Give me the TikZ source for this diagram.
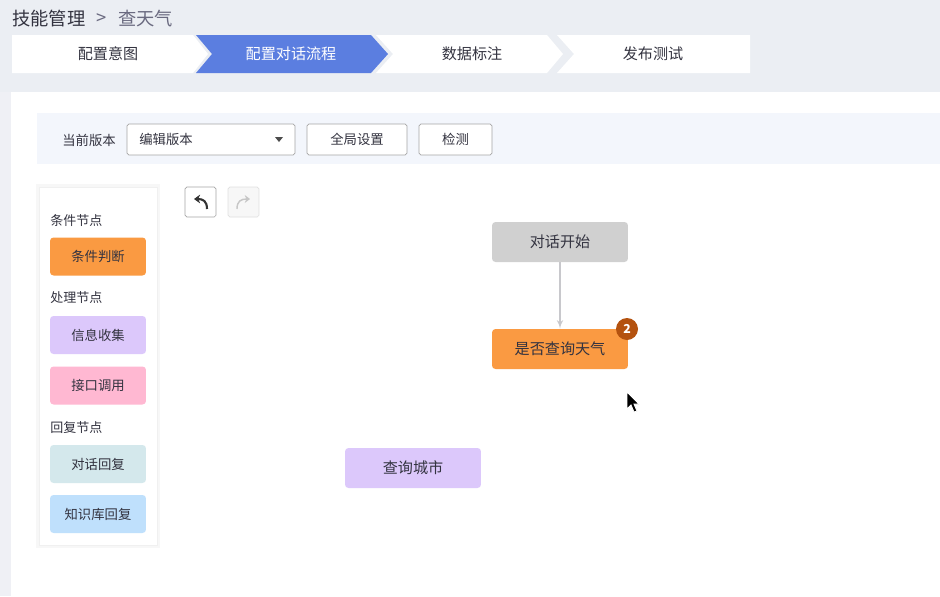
\documentclass[tikz,border=0pt]{standalone}
\usepackage{fontspec}
\setmainfont{Noto Sans CJK SC}
\usepackage{tikz}
\usetikzlibrary{arrows, arrows.meta, positioning}
\definecolor{pagebg}{HTML}{EBEEF3}
\definecolor{sidebg}{HTML}{EFF0F5}
\definecolor{stepblue}{HTML}{5B7EE0}
\definecolor{barbg}{HTML}{F3F6FC}
\definecolor{condorange}{HTML}{FA9A42}
\definecolor{collectpurple}{HTML}{DCC8FB}
\definecolor{apipink}{HTML}{FFB8D2}
\definecolor{replyteal}{HTML}{D4E8EC}
\definecolor{kbblue}{HTML}{BFE0FC}
\definecolor{startgray}{HTML}{D0D0D0}
\definecolor{badgebrown}{HTML}{B4520F}
\definecolor{txt}{HTML}{333340}
\definecolor{crumbgray}{HTML}{6A6A80}
\definecolor{linegray}{HTML}{C8C8CC}
\newlength{\flowwidth}
\setlength{\flowwidth}{2.72cm}
\newlength{\palwidth}
\setlength{\palwidth}{1.92cm}
\tikzset{flow/.style = {shape=rectangle, rounded corners=2pt, minimum width=\flowwidth, minimum height=0.8cm, inner sep=0pt, text=txt, font=\fontsize{8.6pt}{10pt}\selectfont}}
\tikzset{palbox/.style = {shape=rectangle, rounded corners=2pt, minimum width=\palwidth, minimum height=0.76cm, inner sep=0pt, text=txt, font=\fontsize{7.6pt}{9pt}\selectfont}}
\tikzset{grouplabel/.style = {anchor=west, inner sep=0pt, text=txt, font=\fontsize{7.4pt}{9pt}\selectfont}}
\tikzset{steptext/.style = {inner sep=0pt, text=txt, font=\fontsize{8.6pt}{10pt}\selectfont}}
\tikzset{btn/.style = {shape=rectangle, draw=black!35, fill=white, rounded corners=1pt, minimum height=0.62cm, inner sep=0pt, text=txt, font=\fontsize{7.6pt}{9pt}\selectfont}}
\tikzset{edge/.style = {->, > = latex', draw=linegray, line width=0.7pt}}

\begin{document}
\begin{tikzpicture}[x=0.02cm, y=-0.02cm]
        \useasboundingbox (0,0) rectangle (940,596);
        % page background
        \fill[pagebg] (0,0) rectangle (940,92);
        \fill[sidebg] (0,92) rectangle (11,596);
        \fill[white] (11,92) rectangle (940,596);
        % breadcrumb
        \node[anchor=west, inner sep=0pt, text=txt, font=\fontsize{10.4pt}{12pt}\selectfont] (skill) at (12,19) {技能管理};
        \node[right=6pt of skill, inner sep=0pt, text=crumbgray, font=\fontsize{10.4pt}{12pt}\selectfont] (sep) {>};
        \node[right=6pt of sep, inner sep=0pt, text=crumbgray, font=\fontsize{10.4pt}{12pt}\selectfont] (crumb) {查天气};
        % steps
        \fill[white] (12,35) -- (193,35) -- (208,54) -- (193,73) -- (12,73) -- cycle;
        \fill[stepblue] (196,35) -- (371,35) -- (388,54) -- (371,73) -- (196,73) -- (212,54) -- cycle;
        \fill[white] (376,35) -- (547,35) -- (563,54) -- (547,73) -- (376,73) -- (393,54) -- cycle;
        \fill[white] (557,35) -- (750,35) -- (750,73) -- (557,73) -- (574,54) -- cycle;
        \node[steptext] (intent) at (108,54) {配置意图};
        \node[steptext, text=white] (dialog) at (291,54) {配置对话流程};
        \node[steptext] (label) at (472,54) {数据标注};
        \node[steptext] (publish) at (653,54) {发布测试};
        % toolbar
        \fill[barbg] (37,113) rectangle (940,164);
        \node[inner sep=0pt, text=txt, font=\fontsize{7.6pt}{9pt}\selectfont] (version) at (89,140) {当前版本};
        \node[btn, minimum width=3.36cm] (select) at (211,139.5) {};
        \node[anchor=west, inner sep=0pt, text=txt, font=\fontsize{7.6pt}{9pt}\selectfont] (edit) at (139,139) {编辑版本};
        \fill[black!70] (275,137) -- (283,137) -- (279,142) -- cycle;
        \node[btn, minimum width=2cm] (global) at (357,139.5) {全局设置};
        \node[btn, minimum width=1.46cm] (check) at (455.5,139.5) {检测};
        % undo / redo
        \node[btn, minimum width=0.62cm, minimum height=0.6cm] (undo) at (200.5,202) {};
        \node[btn, draw=black!12, fill=black!3, minimum width=0.62cm, minimum height=0.6cm] (redo) at (243.5,202) {};
        \draw[line width=1.2pt, black!80, -{Stealth[length=3.5pt, width=5pt]}] (207,209) .. controls (207,201) and (203,199) .. (194,199);
        \draw[line width=0.8pt, black!22, -{Stealth[length=3pt, width=4.5pt]}] (237,209) .. controls (237,201) and (241,199) .. (250,199);
        % palette
        \fill[black!3] (36,184) rectangle (160,548);
        \fill[white, draw=black!6] (39,187) rectangle (157,545);
        \node[grouplabel] (condlabel) at (50,221) {条件节点};
        \node[palbox, fill=condorange] (cond) at (98,256.5) {条件判断};
        \node[grouplabel] (proclabel) at (50,298) {处理节点};
        \node[palbox, fill=collectpurple] (collect) at (98,335) {信息收集};
        \node[palbox, fill=apipink] (api) at (98,385.5) {接口调用};
        \node[grouplabel] (replylabel) at (50,428) {回复节点};
        \node[palbox, fill=replyteal] (reply) at (98,464) {对话回复};
        \node[palbox, fill=kbblue] (kb) at (98,514) {知识库回复};
        % flow
        \node[flow, fill=startgray] (start) at (560,242) {对话开始};
        \node[flow, fill=condorange] (weather) at (560,349) {是否查询天气};
        \draw[edge] (start) -- (weather);
        \node[shape=circle, fill=badgebrown, minimum size=0.44cm, inner sep=0pt, text=white, font=\bfseries\fontsize{7pt}{8pt}\selectfont] (badge) at (627,329) {2};
        \node[flow, fill=collectpurple] (city) at (413,468) {查询城市};
        % cursor
        \filldraw[fill=black, draw=white, line width=0.5pt] (627,392) -- (627,409) -- (631,405) -- (634,412) -- (637,411) -- (634,404) -- (639,404) -- cycle;
    \end{tikzpicture}
\end{document}
